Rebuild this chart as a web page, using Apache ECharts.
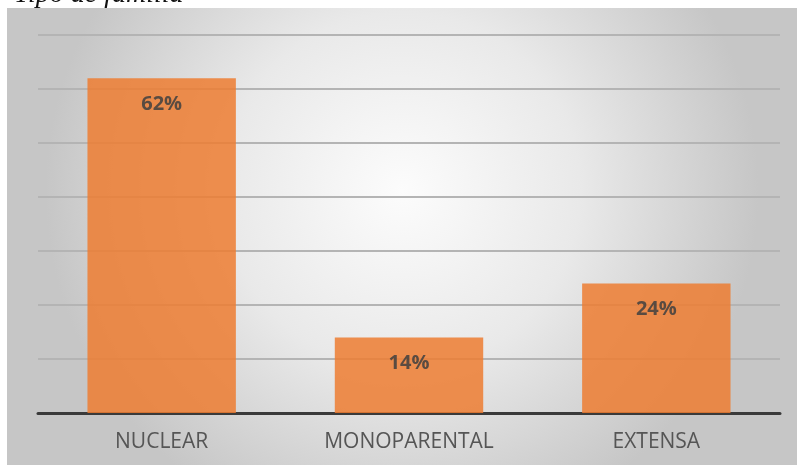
<!DOCTYPE html>
<html>
<head>
<meta charset="utf-8">
<script src="https://cdn.jsdelivr.net/npm/echarts@6/dist/echarts.min.js"></script>
<style>html,body{margin:0;padding:0;background:#fff}#c{width:797px;height:465px}</style>
</head>
<body>
<div id="c"></div>
<script>
const categories = ['NUCLEAR', 'MONOPARENTAL', 'EXTENSA'];
const values = [62, 14, 24];
const titleText = 'Tipo de familia';

const chart = echarts.init(document.getElementById('c'), null, {renderer: 'canvas'});
chart.setOption({
  animation: false,
  graphic: [
    {type: 'rect', left: 7, top: 8, z: -10, silent: true,
     shape: {width: 790, height: 457},
     style: {fill: {type: 'radial', x: 0.5, y: 0.4, r: 0.78,
       colorStops: [{offset: 0, color: '#fcfcfc'}, {offset: 0.5, color: '#e9e9e9'}, {offset: 1, color: '#c6c6c6'}]}}},
    {type: 'text', left: 14, top: -19, z: 10, silent: true,
     style: {text: titleText, font: 'italic 28px "Liberation Serif"', fill: '#111'}}
  ],
  grid: {left: 38, right: 17, top: 35, bottom: 52},
  xAxis: {
    type: 'category', data: categories,
    axisLine: {lineStyle: {color: '#3a3a3a', width: 3}},
    axisTick: {show: false},
    axisLabel: {color: '#555', fontSize: 21, fontFamily: 'Open Sans', margin: 19}
  },
  yAxis: {
    type: 'value', min: 0, max: 70, interval: 10,
    axisLabel: {show: false}, axisLine: {show: false}, axisTick: {show: false},
    splitLine: {lineStyle: {color: '#b4b4b4', width: 2}}
  },
  series: [{
    type: 'bar', data: values, barCategoryGap: '40%',
    itemStyle: {color: '#ED7D31', opacity: 0.85},
    label: {show: true, position: 'insideTop', distance: 16, formatter: '{c}%',
      color: '#404040', fontSize: 20, fontWeight: 'bold', fontFamily: 'Open Sans'}
  }]
});
</script>
</body>
</html>
